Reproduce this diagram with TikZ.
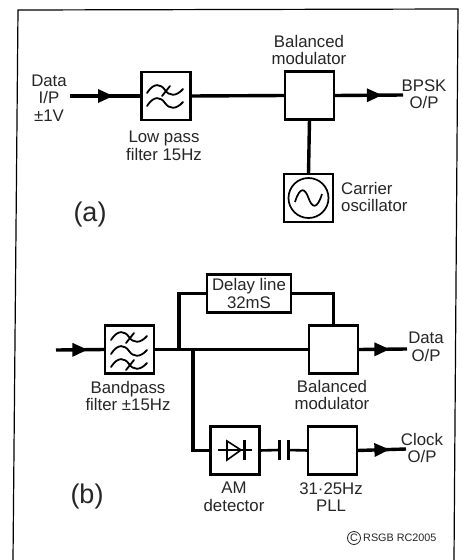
\documentclass[tikz,border=0pt]{standalone}
\usepackage{fontspec}
\setmainfont{Liberation Sans}
\usetikzlibrary{decorations.markings}
\tikzset{
 x=1pt,y=-1pt,
 blockbox/.style={draw=black,line width=2.6pt,fill=white,minimum width=49pt,minimum height=48pt,inner sep=0pt,outer sep=0pt},
 wire/.style={draw=black,line width=3.4pt},
 sym/.style={draw=black,line width=1.8pt,line cap=round},
 lab/.style={font=\fontsize{16.8}{17.5}\selectfont,align=center,inner sep=0pt,text=black!85},
 big/.style={font=\fontsize{27}{30}\selectfont,inner sep=0pt,text=black!85},
 small/.style={font=\fontsize{10.8}{12}\selectfont,inner sep=0pt,text=black!85},
 headed/.style={postaction={decorate,decoration={markings,mark=at position #1 with {\fill[black] (-12pt,-7pt) -- (3pt,0pt) -- (-12pt,7pt) -- cycle;}}}}
}
\newcommand{\wavy}[2]{\draw[sym] (#1-18,#2+3) .. controls (#1-11,#2-8) and (#1-4,#2-6) .. (#1,#2) .. controls (#1+4,#2+6) and (#1+11,#2+7) .. (#1+18,#2-1);}
\newcommand{\slashmark}[2]{\draw[sym] (#1-4,#2+5) -- (#1+4,#2-5);}
\begin{document}
\begin{tikzpicture}
\useasboundingbox (0,0) rectangle (463,560);
\fill[white] (0,0) rectangle (463,560);
% frame
\coordinate (fa) at (13,560); \coordinate (fb) at (18,10); \coordinate (fc) at (458,9); \coordinate (fd) at (454,560);
\draw[black,line width=1.2pt] (fa) -- (fb) -- (fc) -- (fd);
% part (a)
\node[blockbox] (lp) at (166,96) {};
\node[blockbox] (bma) at (309.5,95.5) {};
\node[blockbox] (osc) at (308.5,198) {};
\coordinate (ina) at (70,96); \coordinate (outa) at (403,95);
\draw[wire,headed=0.56] (ina) -- (lp.west);
\draw[wire] (lp.east) -- (bma.west);
\draw[wire,headed=0.65] (bma.east) -- (outa);
\draw[wire] (bma.south) -- (osc.north);
\wavy{165}{90}\slashmark{166}{91}
\wavy{165}{103}
\draw[black,line width=1.7pt] (308.5,198) circle (20);
\draw[black,line width=1.7pt] (295,202) .. controls (300,186) and (305,188) .. (308.5,198) .. controls (312,208) and (317,210) .. (322,194);
\node[lab] (t1) at (49,98) {Data\\I/P\\±1V};
\node[lab] (t2) at (164,146) {Low pass\\filter 15Hz};
\node[lab] (t3) at (309,50) {Balanced\\modulator};
\node[lab] (t4) at (424,94) {BPSK\\O/P};
\node[lab,align=left,anchor=west] (t5) at (341,197) {Carrier\\oscillator};
\node[big] (t6) at (90,215) {(a)};
% part (b)
\node[blockbox,minimum width=84pt,minimum height=38pt,lab] (dl) at (249,293.5) {Delay line\\32mS};
\node[blockbox] (bp) at (129.5,349.5) {};
\node[blockbox] (bmb) at (333.5,349.5) {};
\node[blockbox] (am) at (235,450.5) {};
\node[blockbox] (pll) at (332.5,450.5) {};
\coordinate (inb) at (56,350); \coordinate (outb) at (407,349); \coordinate (outc) at (406,449);
\coordinate (j1) at (179,350); \coordinate (j2) at (193,350);
\coordinate (capl) at (279,450); \coordinate (capr) at (288,450);
\draw[wire,headed=0.58] (inb) -- (bp.west);
\draw[wire] (bp.east) -- (bmb.west);
\draw[wire,headed=0.58] (bmb.east) -- (outb);
\draw[wire,headed=0.6] (pll.east) -- (outc);
\draw[wire] (j1) |- (dl.west);
\draw[wire] (dl.east) -| (bmb.north);
\draw[wire] (j2) |- (am.west);
\draw[wire,line width=2.6pt] (am.east) -- (capl);
\draw[wire,line width=2.6pt] (capr) -- (pll.west);
\draw[black,line width=3pt] (279,440) -- (279,460);
\draw[black,line width=3pt] (288,440) -- (288,460);
\wavy{129}{337}\slashmark{130}{338}
\wavy{129}{351}
\wavy{129}{364}\slashmark{130}{365}
% diode
\draw[black,line width=1.6pt,fill=white] (227,441) -- (227,460) -- (241,450) -- cycle;
\draw[black,line width=2.4pt] (218,450) -- (252,450);
\draw[black,line width=3pt] (244,440) -- (244,460);
\node[lab] (t7) at (128,396) {Bandpass\\filter ±15Hz};
\node[lab] (t8) at (332,395) {Balanced\\modulator};
\node[lab] (t9) at (426,347) {Data\\O/P};
\node[lab] (t10) at (234,497) {AM\\detector};
\node[lab] (t11) at (331,497) {31·25Hz\\PLL};
\node[lab] (t12) at (422,448) {Clock\\O/P};
\node[big] (t13) at (87,497) {(b)};
\node[small,draw=black!85,line width=0.8pt,circle,minimum size=13pt] (t15) at (354,538) {C};
\node[small,anchor=west] (t14) at (363,538) {RSGB RC2005};
\end{tikzpicture}
\end{document}
